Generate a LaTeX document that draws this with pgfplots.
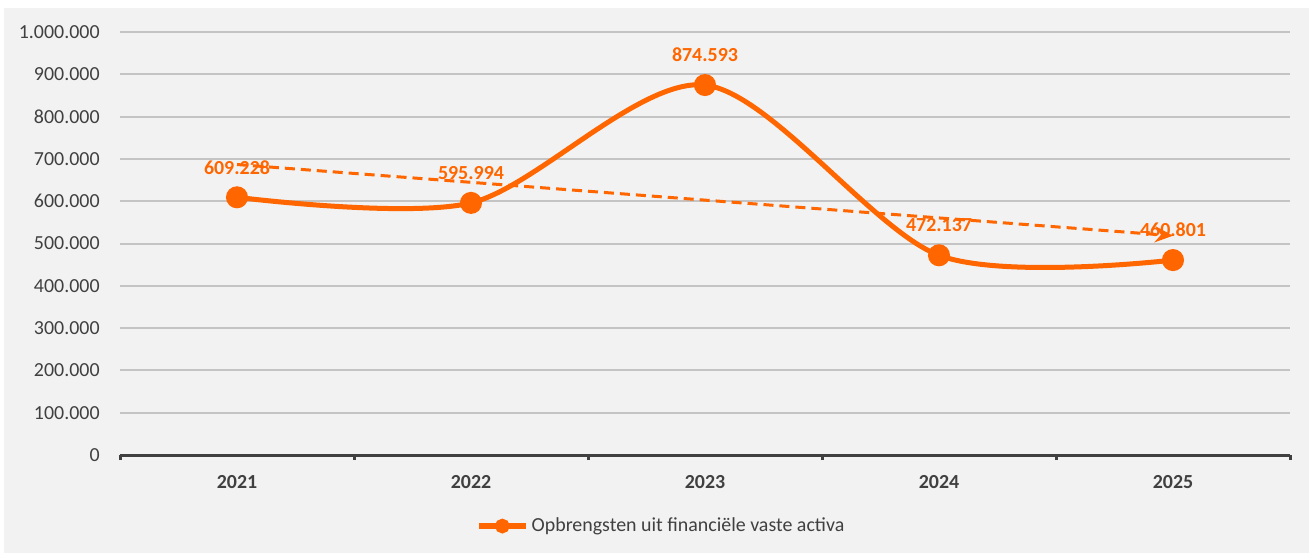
\documentclass[border=0pt]{standalone}
\usepackage{pgfplots}
\pgfplotsset{compat=1.18}
\usepackage{fontspec}
\setmainfont{Carlito}
\usetikzlibrary{arrows.meta}
\definecolor{orng}{HTML}{FF6600}
\definecolor{txt}{HTML}{404040}
\definecolor{bg}{HTML}{F2F2F2}
\definecolor{grd}{HTML}{C4C4C4}
\definecolor{axl}{HTML}{404040}
\begin{document}
\begin{tikzpicture}
\fill[white] (0,0) rectangle (654.5bp,-276.5bp);
\fill[bg] (2bp,-4bp) rectangle (654.5bp,-276.5bp);
\begin{axis}[
 at={(60bp,-227.5bp)}, anchor=south west,
 scale only axis, width=585bp, height=211.5bp,
 xmin=-0.5, xmax=4.5, ymin=0, ymax=1000000,
 axis x line*=bottom, axis y line*=left,
 x axis line style={draw=axl, line width=1.5bp, -},
 y axis line style={draw=none},
 xtick={0,1,2,3,4}, xticklabels={2021,2022,2023,2024,2025},
 major tick length=0pt,
 extra x ticks={-0.5,0.5,1.5,2.5,3.5,4.5},
 extra x tick labels={},
 extra x tick style={major tick length=2.5bp, tick align=outside, tick style={draw=axl, line width=1.5bp}},
 ytick={0,100000,...,1000000},
 ymajorgrids, grid style={draw=grd, line width=1bp},
 ytick style={draw=none},
 scaled y ticks=false,
 /pgf/number format/fixed,
 /pgf/number format/precision=0,
 /pgf/number format/1000 sep={.},
 /pgf/number format/assume math mode=true,
 tick label style={font=\fontsize{10}{12}\selectfont, text=txt},
 xticklabel style={font=\fontsize{10}{12}\selectfont\bfseries, anchor=north, inner sep=0pt, yshift=-10bp},
 yticklabel style={anchor=east, inner sep=0pt, xshift=-10bp},
 legend style={at={(0.463,-0.168)}, anchor=center, draw=none, fill=none, font=\fontsize{10}{12}\selectfont, text=txt,
   nodes={inner xsep=1.5bp}},
 legend image code/.code={\draw[orng, line width=2.8bp] (0bp,0bp) -- (23.5bp,0bp); \fill[orng] (11.75bp,0bp) circle (2.4bp);},
 clip=false,
]
\addplot[orng, line width=1.5bp, dash pattern=on 5bp off 3bp, -{Stealth[length=9bp, width=8bp, inset=3bp]}, forget plot]
 coordinates {(0,686692.8) (4,518408.4)};
\addplot[orng, line width=2.5bp, smooth, tension=0.5, mark=*, mark size=4.25bp, mark options={solid, fill=orng},
 nodes near coords,
 every node near coord/.append style={font=\fontsize{10}{12}\selectfont\bfseries, text=orng, anchor=center, yshift=15bp}]
 coordinates {(0,609228) (1,595994) (2,874593) (3,472137) (4,460801)};
\addlegendentry{Opbrengsten uit financiële vaste activa}
\end{axis}
\end{tikzpicture}
\end{document}
